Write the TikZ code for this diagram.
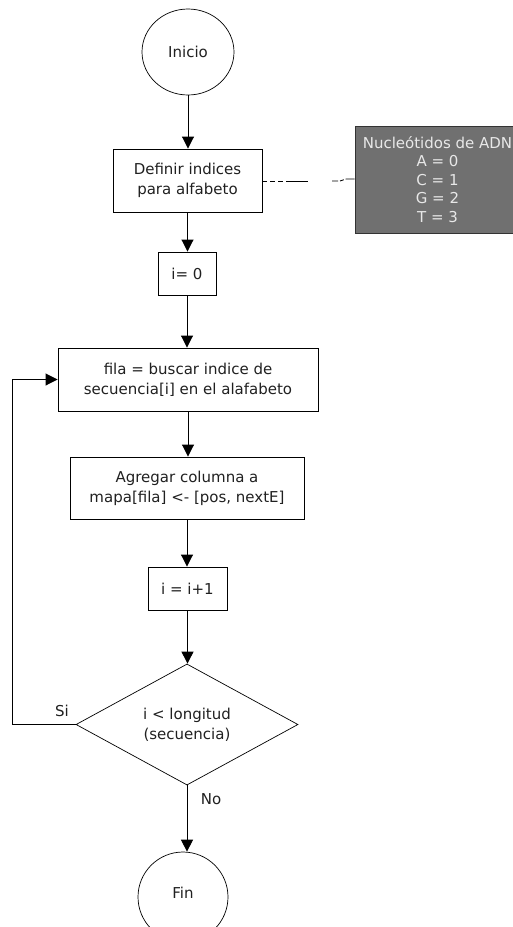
\documentclass[tikz,border=0pt]{standalone}
\usepackage{fontspec}
\setmainfont{DejaVu Sans}
\usetikzlibrary{shapes.geometric,arrows.meta}
\definecolor{txt}{HTML}{202020}
\definecolor{notefill}{HTML}{707070}
\definecolor{notetxt}{HTML}{E8E8E8}
\tikzset{
  base/.style={draw=black, line width=0.9pt, inner sep=0pt, text=txt, align=center, font=\fontsize{15}{20}\selectfont},
  procbox/.style={base, rectangle},
  termnode/.style={base, ellipse, line width=0.7pt},
  decnode/.style={base, diamond, line width=0.7pt},
  notebox/.style={draw=black!80, line width=0.9pt, fill=notefill, text=notetxt, inner sep=0pt, align=center, rectangle, font=\fontsize{15}{18.5}\selectfont},
  flow/.style={line width=0.9pt, -{Triangle[width=12pt,length=12pt]}},
  lbl/.style={text=txt, font=\fontsize{15}{18}\selectfont, inner sep=0pt},
}
\begin{document}
\begin{tikzpicture}[x=1pt,y=-1pt]
\useasboundingbox (0,0) rectangle (513,927);
\node[termnode, minimum width=92pt, minimum height=86pt] (start) at (188,52) {Inicio};
\node[procbox, minimum width=149pt, minimum height=63pt] (def) at (187.5,180.5) {Definir indices\\para alfabeto};
\node[procbox, minimum width=58pt, minimum height=43pt] (i0) at (187,273.5) {i= 0};
\node[procbox, minimum width=260pt, minimum height=63pt] (fila) at (188,379.5) {fila = buscar indice de\\secuencia[i] en el alafabeto};
\node[procbox, minimum width=234pt, minimum height=62pt] (agr) at (187,488) {Agregar columna a\\mapa[fila] <- [pos, nextE]};
\node[procbox, minimum width=79pt, minimum height=43pt] (inc) at (187.5,588.5) {i = i+1};
\node[decnode, minimum width=222pt, minimum height=111pt] (dec) at (187,724.5) {i < longitud\\ (secuencia)};
\node[termnode, minimum width=90pt, minimum height=90pt, text depth=8pt] (fin) at (183,897) {Fin};
\node[notebox, minimum width=165pt, minimum height=107pt] (note) at (437.5,179.5) {Nucleótidos de ADN\\A = 0\\C = 1\\G = 2\\T = 3};
\coordinate (lx) at (12,0);
\coordinate (d1) at (308,181);
\coordinate (d2) at (332,181);
\coordinate (d3) at (346,179);

\draw[flow] (start.south) -- (start.south |- def.north);
\draw[flow] (def.south) -- (def.south |- i0.north);
\draw[flow] (i0.south) -- (i0.south |- fila.north);
\draw[flow] (fila.south) -- (fila.south |- agr.north);
\draw[flow] (agr.south) -- (agr.south |- inc.north);
\draw[flow] (inc.south) -- (inc.south |- dec.north);
\draw[flow] (dec.south) -- (dec.south |- fin.north);
\draw[flow] (dec.west) -- (dec.west -| lx) |- (fila.west);
\node[lbl] (si) at (62,711) {Si};
\node[lbl] (no) at (211,799) {No};

\draw[line width=0.9pt, dash pattern=on 5pt off 3pt on 5pt off 3pt on 5pt off 3pt on 30pt] (def.east |- d1) -- (d1);
\draw[line width=0.9pt, dash pattern=on 6pt off 2pt on 4pt off 2pt on 30pt] (d2) -- (340,181) -- (d3) -- (note.west |- d3);
\end{tikzpicture}
\end{document}
